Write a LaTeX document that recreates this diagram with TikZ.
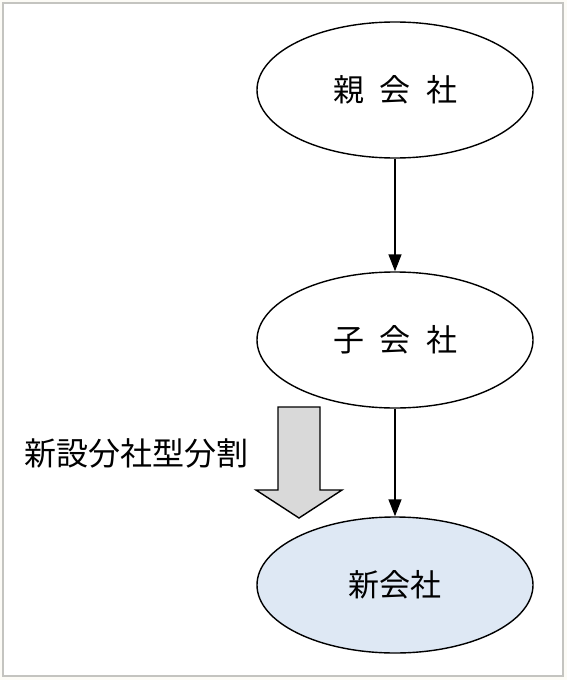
\documentclass[tikz,border=0pt]{standalone}
\usepackage{fontspec}
\setmainfont{Noto Sans CJK JP}
\usetikzlibrary{arrows.meta,shapes.geometric}
\definecolor{newfill}{HTML}{DEE8F4}
\definecolor{blockfill}{HTML}{D9D9D9}
\definecolor{framecol}{HTML}{C4C4C0}
\definecolor{paper}{HTML}{FCFBF6}
\tikzset{
  company/.style={draw,line width=1.4pt,ellipse,minimum width=276pt,minimum height=136pt,inner sep=0pt,font=\fontsize{31}{36}\selectfont},
  link/.style={line width=1.4pt,-{Triangle[length=17pt,width=13pt]}},
}
\begin{document}
\begin{tikzpicture}[x=1pt,y=-1pt]
  \fill[paper] (0,0) rectangle (567,680);
  \fill[white] (3,3) rectangle (563,676);
  \draw[framecol,line width=1.5pt] (3,3) rectangle (563,676);
  \node[company] (parent) at (395,90) {親\hspace{0.5em}会\hspace{0.5em}社};
  \node[company] (child) at (395,340) {子\hspace{0.5em}会\hspace{0.5em}社};
  \node[company,fill=newfill] (newco) at (395,585) {新会社};
  \draw[link] (parent) -- (child);
  \draw[link] (child) -- (newco);
   \pgfmathsetmacro{\shaft}{21}
   \pgfmathsetmacro{\wing}{43}
  \draw[shift={(299,0)},fill=blockfill,line width=1.4pt] (-\shaft,407) -- (\shaft,407) -- (\shaft,490) -- (\wing,490) -- (0,518) -- (-\wing,490) -- (-\shaft,490) -- cycle;
  \node[font=\fontsize{32}{36}\selectfont] (split) at (136,453) {新設分社型分割};
\end{tikzpicture}
\end{document}
